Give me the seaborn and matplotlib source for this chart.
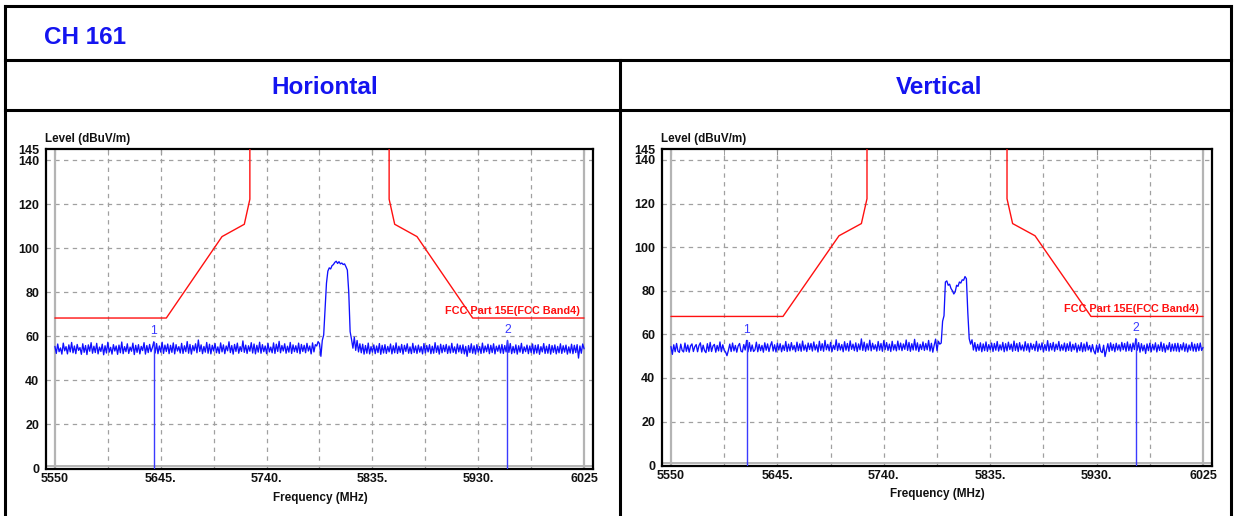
import numpy as np
import pandas as pd
import matplotlib
matplotlib.use("Agg")
import matplotlib.pyplot as plt
from matplotlib.lines import Line2D
import seaborn as sns

# ---------------- data ----------------
title_text = "CH 161"
panel_titles = ["Horiontal", "Vertical"]
limit_label = "FCC Part 15E(FCC Band4)"

freq_start = 5550.0
freq_step = 1.25

level_h = [
    55.3, 52.1, 56.4, 52.9, 54.6, 51.8, 56.8, 53.3, 55.2, 51.9, 56.0, 52.8, 57.1, 52.4, 55.5, 52.0, 56.2, 53.5, 54.8, 51.7,
    56.5, 52.6, 55.7, 51.6, 56.0, 53.1, 57.0, 52.2, 55.4, 52.5, 56.7, 51.9, 55.0, 53.0, 56.3, 51.5, 55.6, 52.3, 57.2, 52.7,
    54.9, 51.8, 56.1, 53.2, 55.5, 51.7, 55.9, 52.4, 57.3, 52.0, 55.2, 52.9, 56.5, 52.1, 55.0, 53.1, 56.8, 51.6, 55.8, 52.6,
    56.1, 51.9, 55.3, 53.4, 57.0, 51.8, 55.7, 52.5, 56.2, 52.9, 54.8, 57.4, 52.3, 56.6, 52.0, 55.5, 52.7, 57.2, 52.1, 55.9,
    53.0, 56.4, 52.0, 55.8, 52.6, 56.9, 51.9, 56.1, 53.2, 55.2, 52.3, 56.7, 52.1, 55.6, 52.9, 57.5, 52.2, 56.2, 51.8, 55.7,
    53.3, 56.5, 52.4, 58.2, 53.0, 56.0, 52.0, 55.3, 52.7, 57.1, 52.2, 56.3, 51.9, 55.8, 53.2, 56.6, 52.4, 55.1, 52.1, 56.9,
    52.8, 56.0, 52.0, 55.5, 53.3, 57.4, 52.5, 55.7, 51.8, 56.2, 53.0, 56.8, 52.2, 55.2, 53.0, 57.8, 52.6, 55.9, 52.1, 55.6,
    53.1, 57.0, 52.3, 56.4, 51.9, 55.8, 52.7, 57.2, 52.2, 56.1, 52.9, 55.5, 52.0, 56.7, 52.8, 55.0, 52.4, 56.9, 52.1, 56.3,
    53.0, 57.6, 52.4, 55.7, 53.2, 56.5, 52.2, 55.4, 52.7, 57.1, 52.1, 56.0, 52.9, 55.6, 52.5, 56.8, 52.0, 56.2, 53.0, 55.8,
    52.4, 56.7, 53.2, 55.5, 51.9, 56.9, 52.8, 56.1, 55.5, 57.5, 56.5, 50.8, 58.0, 60.5, 72.0, 84.0, 89.5, 91.0, 90.5, 92.0,
    92.5, 93.5, 94.0, 93.0, 93.8, 92.8, 93.2, 92.5, 92.8, 91.5, 90.0, 80.0, 62.0, 58.5, 54.5, 59.5, 53.5, 58.0, 52.8, 56.5,
    52.4, 56.3, 51.8, 55.7, 52.2, 56.8, 51.9, 55.2, 52.7, 56.0, 52.0, 55.5, 52.5, 56.6, 51.7, 55.8, 52.3, 56.1, 52.1, 55.3,
    52.8, 56.4, 51.9, 55.6, 52.4, 56.9, 52.1, 55.4, 52.6, 56.2, 51.8, 55.8, 53.0, 56.5, 52.2, 55.1, 52.0, 56.7, 52.5, 55.5,
    52.1, 55.9, 52.7, 55.2, 51.9, 56.6, 52.3, 55.7, 52.8, 56.1, 52.0, 55.4, 52.2, 57.0, 52.6, 55.6, 51.8, 56.3, 52.4, 55.8,
    52.9, 56.2, 52.1, 55.5, 52.3, 56.7, 52.6, 55.1, 52.0, 56.4, 52.8, 55.8, 52.2, 56.0, 51.9, 55.3, 50.8, 55.7, 52.5, 56.5,
    52.2, 55.6, 51.8, 56.1, 52.7, 55.2, 52.1, 56.8, 52.4, 55.5, 52.9, 56.3, 52.0, 55.8, 52.5, 56.5, 51.9, 55.4, 53.1, 55.9,
    52.3, 56.2, 52.1, 55.7, 52.8, 58.0, 52.6, 56.6, 52.0, 55.3, 52.4, 56.0, 51.8, 55.6, 52.7, 56.7, 52.1, 55.1, 52.9, 55.9,
    52.0, 55.5, 52.5, 56.4, 51.9, 55.8, 52.3, 56.1, 51.7, 55.2, 52.8, 56.6, 52.1, 55.4, 52.2, 56.2, 51.8, 55.7, 52.6, 56.0,
    51.9, 55.3, 52.4, 56.5, 52.1, 55.6, 52.7, 55.9, 51.8, 55.1, 52.3, 56.3, 52.0, 55.8, 52.5, 56.1, 50.0, 55.5, 52.2, 56.4,
    54.2,
]

level_v = [
    54.4, 50.8, 55.2, 52.0, 55.8, 52.3, 51.7, 55.5, 52.6, 51.9, 56.0, 52.2, 55.1, 51.8, 54.7, 55.6, 52.1, 54.3, 55.3, 52.0,
    54.8, 56.1, 51.9, 55.0, 52.5, 51.6, 55.7, 52.2, 56.3, 52.1, 54.6, 55.4, 51.8, 54.9, 52.4, 56.5, 52.0, 55.2, 52.7, 51.9,
    50.2, 52.6, 55.5, 52.1, 56.0, 52.4, 54.9, 51.8, 54.7, 55.8, 52.3, 51.9, 55.3, 52.8, 57.2, 52.0, 56.2, 52.2, 55.1, 52.1,
    52.9, 56.4, 52.0, 55.4, 52.5, 54.9, 51.8, 56.1, 52.7, 55.6, 52.1, 54.8, 56.6, 52.3, 55.2, 51.9, 55.9, 52.8, 55.7, 52.0,
    55.0, 52.6, 56.7, 52.1, 55.5, 52.4, 56.2, 52.9, 54.9, 52.0, 56.4, 52.5, 55.6, 52.2, 56.9, 52.7, 55.1, 52.1, 56.0, 53.0,
    55.8, 52.3, 56.5, 52.8, 55.2, 51.9, 56.8, 52.6, 55.7, 52.2, 57.2, 52.9, 55.4, 52.4, 56.3, 52.1, 55.0, 53.0, 57.5, 52.5,
    55.9, 52.8, 55.3, 52.0, 56.6, 52.7, 55.8, 52.3, 57.0, 53.1, 55.5, 52.5, 56.1, 52.1, 55.6, 52.9, 57.9, 52.6, 56.4, 52.2,
    55.7, 52.8, 57.3, 52.4, 55.9, 53.1, 55.2, 52.3, 56.7, 52.7, 55.8, 52.2, 57.1, 53.0, 56.2, 52.6, 55.5, 52.1, 56.8, 52.8,
    55.3, 52.4, 56.9, 52.9, 56.0, 52.5, 55.6, 53.1, 57.4, 52.6, 56.3, 52.2, 55.7, 52.8, 57.7, 52.7, 56.1, 52.1, 55.4, 53.0,
    56.5, 52.6, 55.8, 52.9, 57.2, 52.3, 55.9, 51.8, 55.0, 57.8, 52.5, 56.8, 55.5, 56.0, 66.0, 68.5, 84.0, 84.5, 82.5, 83.0,
    81.0, 80.0, 78.5, 79.5, 82.5, 82.0, 84.0, 83.5, 85.0, 84.8, 86.5, 85.5, 70.0, 58.0, 55.5, 57.5, 52.8, 56.2, 52.2, 55.4,
    52.6, 56.1, 52.0, 55.6, 52.5, 56.5, 52.2, 55.3, 52.9, 56.0, 52.1, 55.8, 52.7, 56.7, 52.3, 55.2, 52.8, 56.3, 52.0, 55.7,
    52.4, 56.4, 53.0, 55.5, 52.2, 56.9, 52.6, 55.8, 52.1, 56.2, 52.8, 55.1, 52.3, 56.6, 52.7, 55.7, 51.9, 55.9, 53.1, 55.4,
    52.5, 56.8, 52.2, 55.6, 52.9, 56.1, 52.0, 55.3, 52.6, 57.1, 52.3, 55.8, 52.8, 56.3, 52.2, 55.5, 53.0, 56.7, 52.4, 55.2,
    52.7, 56.0, 52.1, 55.7, 52.6, 56.5, 52.2, 55.4, 52.9, 55.9, 51.8, 55.1, 52.5, 56.2, 52.0, 55.6, 52.3, 56.4, 52.8, 54.9,
    51.9, 55.3, 52.4, 51.0, 55.1, 51.8, 55.5, 52.2, 51.6, 55.0, 49.8, 52.7, 55.7, 52.1, 56.1, 52.6, 55.4, 52.0, 55.9, 52.8,
    55.2, 52.3, 56.3, 52.9, 55.8, 52.2, 56.5, 52.5, 55.5, 52.1, 56.0, 53.0, 58.0, 52.7, 56.2, 51.8, 55.7, 52.4, 55.0, 51.2,
    55.6, 52.5, 55.9, 52.0, 55.4, 52.8, 56.1, 51.9, 55.2, 52.6, 56.4, 52.2, 55.7, 51.8, 55.0, 52.9, 56.2, 52.1, 55.5, 52.4,
    55.8, 52.3, 55.9, 52.0, 55.3, 52.8, 56.1, 52.2, 55.6, 51.9, 55.1, 52.7, 56.3, 52.3, 55.5, 52.1, 55.7, 52.5, 56.0, 52.6,
    54.0,
]

# FCC limit line (two segments, band edge to top of chart)
limit_left_freq = [5550, 5650, 5700, 5720, 5725, 5725]
limit_left_level = [68.2, 68.2, 105.2, 110.8, 122.2, 145.0]
limit_right_freq = [5850, 5850, 5855, 5875, 5925, 6025]
limit_right_level = [145.0, 122.2, 110.8, 105.2, 68.2, 68.2]

markers_h_freq = [5638.75, 5956.25]
markers_h_level = [57.4, 58.0]
markers_v_freq = [5617.5, 5965.0]
markers_v_level = [57.2, 58.0]
marker_names = ["1", "2"]

x_ticks = [5550, 5645, 5740, 5835, 5930, 6025]
x_tick_labels = ["5550", "5645.", "5740.", "5835.", "5930.", "6025"]
y_ticks = [0, 20, 40, 60, 80, 100, 120, 140, 145]
y_tick_labels = ["0", "20", "40", "60", "80", "100", "120", "140", "145"]

# ---------------- drawing ----------------
sns.set_style("white")
FONT = ["Liberation Sans", "DejaVu Sans"]
plt.rcParams["font.family"] = FONT

W, H = 1234, 516
fig = plt.figure(figsize=(W / 100, H / 100), dpi=100)
fig.patch.set_facecolor("white")

def fx(px):
    return px / W

def fy(py):
    return 1 - py / H

# table lines
lw_tab = 2.2
for (x0, y0, x1, y1) in [
    (5, 6, 1231, 6), (5, 60, 1231, 60), (5, 110, 1231, 110),
    (5, 6, 5, 516), (1231, 6, 1231, 516), (620, 60, 620, 516),
]:
    fig.add_artist(Line2D([fx(x0), fx(x1)], [fy(y0), fy(y1)], color="black",
                          lw=lw_tab, transform=fig.transFigure, solid_capstyle="projecting"))

title_blue = "#1414f0"
fig.text(fx(44), fy(37), title_text, color=title_blue, fontsize=17.5,
         fontweight="bold", ha="left", va="center")
fig.text(fx(325), fy(88), panel_titles[0], color=title_blue, fontsize=17.5,
         fontweight="bold", ha="center", va="center")
fig.text(fx(939), fy(88), panel_titles[1], color=title_blue, fontsize=17.5,
         fontweight="bold", ha="center", va="center")

freq = freq_start + freq_step * np.arange(len(level_h))

panels = [
    dict(box=(46, 149, 593, 469), level=level_h, mf=markers_h_freq, ml=markers_h_level,
         xlab=(320, 498), ylab=(45, 139)),
    dict(box=(662, 149, 1212, 466), level=level_v, mf=markers_v_freq, ml=markers_v_level,
         xlab=(937, 494), ylab=(661, 139)),
]

for p in panels:
    x0, y0, x1, y1 = p["box"]
    ax = fig.add_axes([fx(x0), fy(y1), fx(x1 - x0), (y1 - y0) / H])
    ax.set_facecolor("white")
    ax.set_xlim(5542, 6033)
    ax.set_ylim(-0.4, 145)

    # grid
    for gx in np.arange(5597.5, 6025, 47.5):
        ax.axvline(gx, color="#a0a0a0", lw=0.9, ls=(0, (3.5, 3.5)), zorder=1)
    for gy in range(20, 145, 20):
        ax.axhline(gy, color="#a0a0a0", lw=0.9, ls=(0, (3.5, 3.5)), zorder=1)
    # inner grey frame
    ax.axvline(5550, color="#b4b4b4", lw=1.6, zorder=1)
    ax.axvline(6025, color="#b4b4b4", lw=1.6, zorder=1)
    ax.axhline(0.8, color="#b4b4b4", lw=1.4, zorder=1)

    # limit line
    ax.plot(limit_left_freq, limit_left_level, color="#ff1010", lw=1.0, zorder=3)
    ax.plot(limit_right_freq, limit_right_level, color="#ff1010", lw=1.0, zorder=3)
    ax.text(6021, 69.3, limit_label, color="#ff1010", fontsize=7.8, fontweight="bold",
            ha="right", va="bottom", zorder=4)

    # trace
    df = pd.DataFrame({"freq": freq, "level": p["level"]})
    sns.lineplot(data=df, x="freq", y="level", ax=ax, color="#1010ff", lw=0.95,
                 estimator=None, zorder=4)

    # markers
    for f, lv, name in zip(p["mf"], p["ml"], marker_names):
        ax.plot([f, f], [0, lv], color="#3a3aff", lw=1.0, zorder=4)
        ax.text(f, lv + 2.0, name, color="#3a3aff", fontsize=8.8,
                ha="center", va="bottom", zorder=5)

    ax.set_xticks(x_ticks)
    ax.set_xticklabels(x_tick_labels)
    ax.set_xticks(np.arange(5597.5, 6025, 95), minor=True)
    ax.set_yticks(y_ticks)
    ax.set_yticklabels(y_tick_labels)
    ax.tick_params(axis="x", which="both", bottom=False, top=True, direction="in",
                   length=4, color="#909090", pad=3)
    ax.tick_params(axis="y", which="both", left=False, right=False, pad=1.5)
    for lab in ax.get_xticklabels() + ax.get_yticklabels():
        lab.set_fontweight("bold")
        lab.set_fontsize(9.0)
        lab.set_color("#111111")
    ax.set_xlabel("")
    ax.set_ylabel("")
    for s in ax.spines.values():
        s.set_visible(True)
        s.set_color("black")
        s.set_linewidth(1.6)

    fig.text(fx(p["xlab"][0]), fy(p["xlab"][1]), "Frequency (MHz)", fontsize=8.5,
             fontweight="bold", ha="center", va="center", color="#111111")
    fig.text(fx(p["ylab"][0]), fy(p["ylab"][1]), "Level (dBuV/m)", fontsize=8.4,
             fontweight="bold", ha="left", va="center", color="#111111")

fig.savefig("out.png", dpi=100, facecolor="white")
